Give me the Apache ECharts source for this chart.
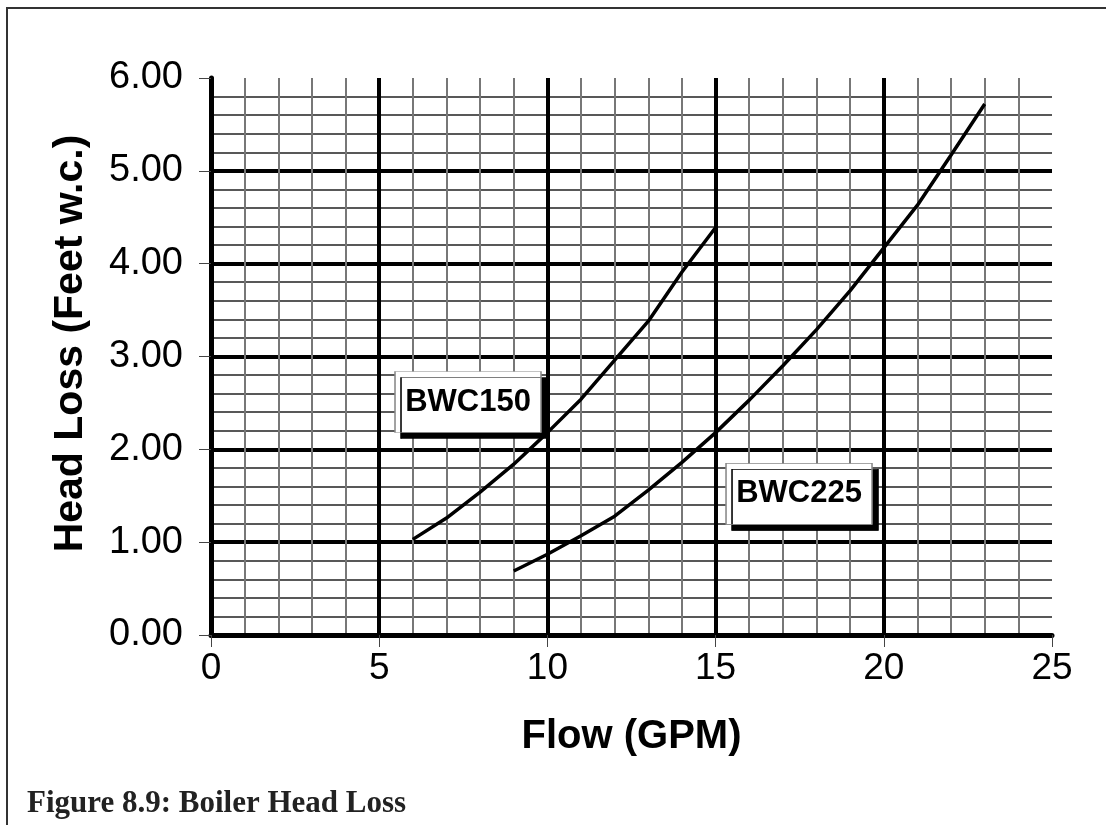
<!DOCTYPE html>
<html>
<head>
<meta charset="utf-8">
<script src="https://cdn.jsdelivr.net/npm/echarts@6/dist/echarts.min.js"></script>
<style>
  html, body { margin: 0; padding: 0; background: #fff; }
  #chart { width: 1106px; height: 825px; }
</style>
</head>
<body>
<div id="chart"></div>
<script>
// flow in GPM
let flow150 = [6, 7, 8, 9, 10, 11, 12, 13, 14, 15];
let head150 = [1.03, 1.26, 1.54, 1.84, 2.18, 2.54, 2.96, 3.38, 3.91, 4.39];

let flow225 = [9, 10, 11, 12, 13, 14, 15, 16, 17, 18, 19, 20, 21, 22, 23];
let head225 = [0.69, 0.87, 1.07, 1.28, 1.56, 1.86, 2.18, 2.53, 2.9, 3.29, 3.71, 4.17, 4.63, 5.17, 5.72];

// where the curve name boxes sit (data units)
let label150 = [7.64, 2.51];
let label225 = [17.48, 1.52];

let chart = echarts.init(document.getElementById('chart'));

function pairs(xs, ys) {
  return xs.map((x, i) => [x, ys[i]]);
}

function nameBox(text, pos) {
  return {
    symbol: 'rect',
    symbolSize: [146, 61],
    silent: true,
    itemStyle: {
      color: '#fff',
      borderColor: '#888',
      borderWidth: 1,
      shadowColor: '#000',
      shadowBlur: 0,
      shadowOffsetX: 6,
      shadowOffsetY: 6
    },
    label: {
      show: true,
      position: 'inside',
      color: '#000',
      fontSize: 31,
      fontWeight: 'bold',
      fontFamily: 'Arial, "Liberation Sans", sans-serif'
    },
    data: [{ name: text, coord: pos, value: text }]
  };
}

let option = {
  animation: false,
  backgroundColor: '#fff',
  textStyle: { fontFamily: 'Arial, "Liberation Sans", sans-serif' },
  title: {
    text: 'Figure 8.9: Boiler Head Loss',
    left: 22,
    top: 783,
    textStyle: {
      fontFamily: '"Liberation Serif", "Times New Roman", serif',
      fontSize: 31,
      fontWeight: 'bold',
      color: '#222'
    }
  },
  graphic: [
    // outer frame (top and left edges only)
    { type: 'polyline', shape: { points: [[7, 825], [7, 8], [1106, 8]] },
      style: { stroke: '#333', lineWidth: 2, fill: null } }
  ],
  grid: { left: 211, right: 54, top: 78, bottom: 190 },
  xAxis: [{
    type: 'value',
    min: 0,
    max: 25,
    interval: 5,
    name: 'Flow (GPM)',
    nameLocation: 'middle',
    nameGap: 82,
    nameTextStyle: { fontSize: 40, fontWeight: 'bold', color: '#000' },
    axisLine: { show: true, onZero: false, lineStyle: { color: '#000', width: 2 } },
    axisTick: { show: true, length: 12, lineStyle: { color: '#444', width: 1 } },
    axisLabel: { fontSize: 37, color: '#000', margin: 15 },
    splitLine: { show: true, showMinLine: false, showMaxLine: false, lineStyle: { color: '#000', width: 4 } },
    minorTick: { show: false, splitNumber: 5 },
    minorSplitLine: { show: true, lineStyle: { color: '#777', width: 2 } }
  }, {
    type: 'value',
    position: 'top',
    min: 0,
    max: 25,
    interval: 5,
    axisLine: { show: true, lineStyle: { color: '#000', width: 5 } },
    axisTick: { show: false },
    axisLabel: { show: false },
    splitLine: { show: false }
  }],
  yAxis: [{
    type: 'value',
    min: 0,
    max: 6,
    interval: 1,
    name: 'Head Loss (Feet w.c.)',
    nameLocation: 'middle',
    nameGap: 120,
    nameTextStyle: { fontSize: 41, fontWeight: 'bold', color: '#000', padding: [0, 0, 0, 26] },
    axisLine: { show: true, onZero: false, lineStyle: { color: '#000', width: 2 } },
    axisTick: { show: true, length: 12, lineStyle: { color: '#444', width: 1 } },
    axisLabel: { fontSize: 38, color: '#000', margin: 28, formatter: v => v.toFixed(2) },
    splitLine: { show: true, showMinLine: false, showMaxLine: false, lineStyle: { color: '#000', width: 4 } },
    minorTick: { show: false, splitNumber: 5 },
    minorSplitLine: { show: true, lineStyle: { color: '#222', width: 1.5 } }
  }, {
    type: 'value',
    position: 'right',
    min: 0,
    max: 6,
    interval: 1,
    axisLine: { show: true, lineStyle: { color: '#000', width: 5 } },
    axisTick: { show: false },
    axisLabel: { show: false },
    splitLine: { show: false }
  }],
  series: [{
    name: 'BWC150',
    type: 'line',
    showSymbol: false,
    lineStyle: { color: '#000', width: 3.5 },
    data: pairs(flow150, head150),
    markPoint: nameBox('BWC150', label150)
  }, {
    name: 'BWC225',
    type: 'line',
    showSymbol: false,
    lineStyle: { color: '#000', width: 3.5 },
    data: pairs(flow225, head225),
    markPoint: nameBox('BWC225', label225)
  }]
};

chart.setOption(option);
</script>
</body>
</html>
